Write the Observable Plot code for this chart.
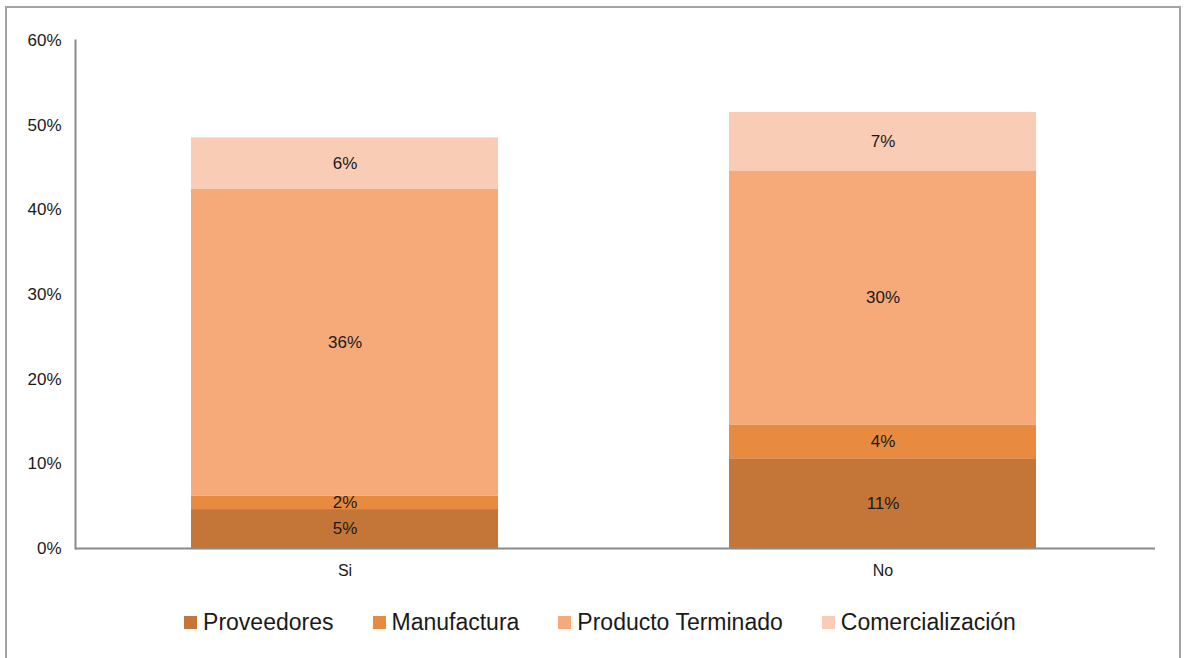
<!DOCTYPE html>
<html>
<head>
<meta charset="utf-8">
<script src="https://cdn.jsdelivr.net/npm/d3@7"></script>
<script src="https://cdn.jsdelivr.net/npm/@observablehq/plot@0.6"></script>
<style>
  html, body { margin: 0; padding: 0; background: #fff; }
  body { width: 1186px; height: 658px; position: relative; overflow: hidden; font-family: "Liberation Sans", Arial, sans-serif; }
  #border { position: absolute; left: 5px; top: 6px; width: 1176px; height: 700px; border: 2px solid #a3a3a3; box-sizing: border-box; }
  #chart { position: absolute; left: 0; top: 0; }
  #legend { position: absolute; left: 7px; width: 1186px; top: 608px; height: 28px; display: flex; justify-content: center; align-items: center; gap: 39px; font-size: 23px; color: #1a1a1a; }
  #legend .item { display: flex; align-items: center; }
  #legend .sw { width: 13px; height: 13px; margin-right: 6px; }
</style>
</head>
<body>
<div id="border"></div>
<div id="chart"></div>
<div id="legend"></div>
<script>
const categories = ["Si", "No"];
const series = ["Proveedores", "Manufactura", "Producto Terminado", "Comercialización"];
const siValues = [4.6, 1.6, 36.2, 6.1];
const noValues = [10.6, 4.0, 30.0, 6.9];
const colors = ["#C47638", "#E88B40", "#F6AA7A", "#F9CCB5"];
const yTicks = [0, 10, 20, 30, 40, 50, 60];

const data = [];
series.forEach((s, i) => {
  data.push({cat: categories[0], series: s, value: siValues[i]});
  data.push({cat: categories[1], series: s, value: noValues[i]});
});

const chart = Plot.plot({
  width: 1186,
  height: 600,
  marginTop: 40,
  marginBottom: 52,
  marginLeft: 75,
  marginRight: 31,
  style: {fontFamily: "'Liberation Sans', Arial, sans-serif", background: "transparent", color: "#1a1a1a"},
  x: {domain: categories, paddingInner: 0.43, paddingOuter: 0.218, align: 0.494},
  y: {domain: [0, 60]},
  color: {domain: series, range: colors},
  marks: [
    Plot.barY(data, {x: "cat", y: "value", z: "series", fill: "series"}),
    Plot.text(data, Plot.stackY({x: "cat", y: "value", z: "series", text: d => Math.round(d.value) + "%", fontSize: 17, fill: "#1a1a1a"})),
    Plot.axisY({ticks: yTicks, tickFormat: d => d + "%", tickSize: 0, tickPadding: 14, fontSize: 17, label: null}),
    Plot.axisX({tickSize: 0, tickPadding: 16, fontSize: 16, label: null}),
    Plot.ruleY([0], {stroke: "#8a8a8a", strokeWidth: 2}),
    Plot.frame({anchor: "left", stroke: "#8a8a8a", strokeWidth: 2})
  ]
});
document.getElementById("chart").appendChild(chart);

const legend = document.getElementById("legend");
series.forEach((s, i) => {
  const item = document.createElement("div");
  item.className = "item";
  const sw = document.createElement("span");
  sw.className = "sw";
  sw.style.background = colors[i];
  const t = document.createElement("span");
  t.textContent = s;
  item.appendChild(sw);
  item.appendChild(t);
  legend.appendChild(item);
});
</script>
</body>
</html>
